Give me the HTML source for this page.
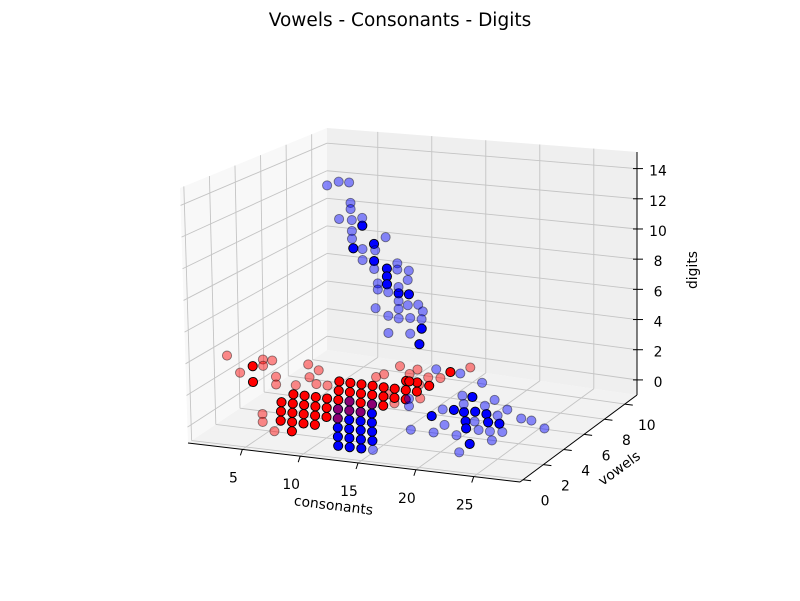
<!DOCTYPE html>
<html><head><meta charset="utf-8"><title>Vowels - Consonants - Digits</title>
<style>
html,body{margin:0;padding:0;background:#fff;}
svg{display:block;font-family:"DejaVu Sans","Liberation Sans",sans-serif;}
</style></head>
<body>
<svg id="chart" width="800" height="601" viewBox="0 0 800 601" xmlns="http://www.w3.org/2000/svg">
<rect x="0" y="0" width="800" height="601" fill="#ffffff"/>
<text x="400" y="26" text-anchor="middle" font-size="18.5" fill="#000">Vowels - Consonants - Digits</text>
<g id="panes"></g>
<g id="grid"></g>
<g id="axes"></g>
<g id="points"></g>
<text x="333" y="510" text-anchor="middle" font-size="13.9" transform="rotate(7 333 510)">consonants</text>
<text x="622" y="472" text-anchor="middle" font-size="13.9" transform="rotate(-36 622 472)">vowels</text>
<text x="697" y="270" text-anchor="middle" font-size="13.9" transform="rotate(-90 697 270)">digits</text>
</svg>
<script>
const xTicks=[5,10,15,20,25];
const yTicks=[0,2,4,6,8,10];
const zTicks=[0,2,4,6,8,10,12,14];
const xLim=[0.3,29], yLim=[-0.3,11.2], zLim=[-1,15.1];

// red, opaque (near)
const redDarkCons=[4,5,6,4,5,6,7,8,5,6,7,8,6,7,8,9,7,8,9,6,7,8,9,10,7,8,9,10,8,9,10,11,9,10,11,10,11,12,11,12,11,12,13,13,12,4.7,4.7,13.7,13.8,11.7];
const redDarkVow=[4,3,2,5,4,3,2,1,5,4,3,2,5,4,3,2,5,4,3,7,6,5,4,3,7,6,5,4,7,6,5,4,7,6,5,7,6,5,7,6,8,7,6,7,8,1,1,7.4,9.2,7.6];
const redDarkDig=[-0.25,-0.25,-0.25,-0.25,-0.25,-0.25,-0.25,-0.25,-0.25,-0.25,-0.25,-0.25,-0.25,-0.25,-0.25,-0.25,-0.25,-0.25,-0.25,-0.25,-0.25,-0.25,-0.25,-0.25,-0.25,-0.25,-0.25,-0.25,-0.25,-0.25,-0.25,-0.25,-0.25,-0.25,-0.25,-0.25,-0.25,-0.25,-0.25,-0.25,-0.25,-0.25,-0.25,-0.25,-0.25,3.6,2.6,0,0,0];
// red, faded (far)
const redLightCons=[5,6,9,13,11,2.5,3.6,5.6,6.4,5.6,6.7,6.7,8.4,9.5,9.6,10.4,9.3,8.7,10.9,12.8,12.7,13.7,14.8,11.5,14.4,6.5,6.5,7.5];
const redLightVow=[6,6,8,5,9,1,1,1,1,1,1,1,1,1,1,1,9.1,7.6,8.4,7.4,8.3,8.4,10,5.9,5.9,0,0,0];
const redLightDig=[0,0,0,0,0,4.1,3.1,4.1,4.1,3.7,3.1,2.6,2.7,4.1,3.3,3.8,0,0,0,0,0,0,0,0,0,1.2,0.7,0.2];
// blue, opaque (near)
const blueDarkCons=[11,12,13,11,12,13,14,12,13,14,15,12,13,14,15,18.2,18.2,17.2,19.2,20.3,21.1,20.0,22.1,23.1,21.1,23.0,12.3,11.5,13.3,13.3,14.4,14.4,14.4,15.4,16.3,17.4,17.2];
const blueDarkVow=[2,1,0,3,2,1,0,3,2,1,0,4,3,2,1,6.8,5.1,4.1,5.0,4.0,5.1,5.2,4.2,4.2,3.2,1.5,3,3,3,3,3,3,3,3,3,3,3];
const blueDarkDig=[-0.25,-0.25,-0.25,-0.25,-0.25,-0.25,-0.25,-0.25,-0.25,-0.25,-0.25,-0.25,-0.25,-0.25,-0.25,0,0,0,0,0,0,0,0,0,0,0,12.3,10.8,11.2,10.1,9.7,9.2,8.7,8.2,8.2,6.1,5.1];
// blue, faded (far)
const blueLightCons=[9,10,9,10,11,11,16,14.4,13.6,12.4,14.7,17.4,17.3,20.2,18.3,17.3,20.1,22.2,22.1,19.1,21.0,24.2,25.2,27.0,22.2,23.2,24.2,17.1,19.1,21.1,24.3,23.1,9.3,10.3,11.2,11.3,11.3,10.3,11.4,12.3,11.4,11.4,14.3,12.3,13.4,12.3,13.3,15.3,15.3,16.3,13.6,16.2,15.4,13.6,14.5,15.4,17.1,16.2,17.5,13.4,15.4,16.4,14.5,15.4,17.4,14.5,16.4];
const blueLightVow=[4,3,5,4,4,5,0,4.9,5.7,9.3,9.2,8.5,6.8,6.8,5.9,5.0,6.0,5.9,5.1,3.3,4.1,5.1,5.0,4.3,3.2,3.2,3.3,2.3,2.3,2.3,2.2,0.4,3,3,3,3,3,3,3,3,3,3,3,3,3,3,3,3,3,3,3,3,3,3,3,3,3,3,3,3,3,3,3,3,3,3,3];
const blueLightDig=[-0.25,-0.25,-0.25,-0.25,-0.25,-0.25,-0.25,0,0,0,0,0,0,0,0,0,0,0,0,0,0,0,0,0,0,0,0,0,0,0,0,0,14.7,15.0,15.0,13.7,13.3,12.6,12.6,12.8,11.9,11.4,11.7,10.8,10.8,10.1,9.6,10.1,9.7,9.7,8.7,9.1,8.6,8.3,8.2,7.7,7.6,7.5,7.2,7.1,7.2,6.7,6.7,6.6,6.7,5.6,5.7];

const NS="http://www.w3.org/2000/svg";
const C={
 "000":[188,443],"100":[520,482],"110":[637,395],"010":[327,350],
 "001":[180,188],"101":[524,216],"111":[637,152],"011":[327,128]};
function lerp(a,b,t){return [a[0]+(b[0]-a[0])*t,a[1]+(b[1]-a[1])*t];}
function proj(x,y,z){
  const u=(x-xLim[0])/(xLim[1]-xLim[0]);
  const v=(y-yLim[0])/(yLim[1]-yLim[0]);
  const w=(z-zLim[0])/(zLim[1]-zLim[0]);
  const b=lerp(lerp(C["000"],C["100"],u),lerp(C["010"],C["110"],u),v);
  const t=lerp(lerp(C["001"],C["101"],u),lerp(C["011"],C["111"],u),v);
  return lerp(b,t,w);
}
function mk(tag,attrs,parent){const e=document.createElementNS(NS,tag);for(const k in attrs)e.setAttribute(k,attrs[k]);parent.appendChild(e);return e;}
function poly(pts){return pts.map(p=>p[0].toFixed(1)+","+p[1].toFixed(1)).join(" ");}
const [x0,x1]=xLim,[y0,y1]=yLim,[z0,z1]=zLim;
const panes=document.getElementById('panes');
let e;
e=mk('polygon',{points:poly([proj(x0,y0,z0),proj(x1,y0,z0),proj(x1,y1,z0),proj(x0,y1,z0)]),fill:'#f2f2f2'},panes);


e=mk('polygon',{points:poly([proj(x0,y0,z0),proj(x0,y1,z0),proj(x0,y1,z1),proj(x0,y0,z1)]),fill:'#f8f8f8'},panes);


e=mk('polygon',{points:poly([proj(x0,y1,z0),proj(x1,y1,z0),proj(x1,y1,z1),proj(x0,y1,z1)]),fill:'#efefef'},panes);



const grid=document.getElementById('grid');
function gl(a,b,name){const l=mk('line',{x1:a[0],y1:a[1],x2:b[0],y2:b[1],stroke:'#c4c4c4','stroke-width':0.9},grid);

}
xTicks.forEach(t=>{gl(proj(t,y0,z0),proj(t,y1,z0),'x-gridline-floor');gl(proj(t,y1,z0),proj(t,y1,z1),'x-gridline-wall');});
yTicks.forEach(t=>{gl(proj(x0,t,z0),proj(x1,t,z0),'y-gridline-floor');gl(proj(x0,t,z0),proj(x0,t,z1),'y-gridline-wall');});
zTicks.forEach(t=>{gl(proj(x0,y0,t),proj(x0,y1,t),'z-gridline-left');gl(proj(x0,y1,t),proj(x1,y1,t),'z-gridline-back');});

const axes=document.getElementById('axes');
function al(a,b,name,w){const l=mk('line',{x1:a[0],y1:a[1],x2:b[0],y2:b[1],stroke:'#000','stroke-width':w||1},axes);

}
function tl(p,txt,dx,dy,name){const t=mk('text',{x:(p[0]+dx).toFixed(1),y:(p[1]+dy).toFixed(1),'text-anchor':'middle','font-size':13.9,fill:'#000'},axes);t.textContent=txt;

}
al(proj(x0,y0,z0),proj(x1,y0,z0),'x-axis-line');
al(proj(x1,y0,z0),proj(x1,y1,z0),'y-axis-line');
al(proj(x1,y1,z0),proj(x1,y1,z1),'z-axis-line');
xTicks.forEach(t=>{const p=proj(t,y0,z0);al(p,[p[0]-2,p[1]+6],'x-tick');tl(p,String(t),-9,33,'x-tick-label');});
yTicks.forEach(t=>{const p=proj(x1,t,z0);al(p,[p[0]+8,p[1]+1],'y-tick');tl(p,String(t),22,26,'y-tick-label');});
zTicks.forEach(t=>{const p=proj(x1,y1,t);al([p[0]-4,p[1]],[p[0]+6,p[1]],'z-tick');tl(p,String(t),21,7,'z-tick-label');});

const pts=document.getElementById('points');
function series(cs,vs,ds,color,op,name){
  for(let i=0;i<cs.length;i++){
    const p=proj(cs[i],vs[i],ds[i]);
    const c=mk('circle',{cx:p[0].toFixed(1),cy:p[1].toFixed(1),r:4.6,fill:color,'fill-opacity':op,stroke:'#000','stroke-opacity':op,'stroke-width':0.9},pts);
    
    
  }
}
series(redLightCons,redLightVow,redLightDig,'#ff0000',0.45,'red-point-far');
series(redDarkCons,redDarkVow,redDarkDig,'#ff0000',1,'red-point');
series(blueDarkCons,blueDarkVow,blueDarkDig,'#0000ff',1,'blue-point');
series(blueLightCons,blueLightVow,blueLightDig,'#0000ff',0.45,'blue-point-far');
</script>
</body></html>
